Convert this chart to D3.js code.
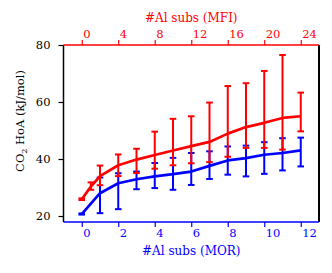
<!DOCTYPE html>
<html>
<head>
<meta charset="utf-8">
<script src="https://cdn.jsdelivr.net/npm/d3@7"></script>
<style>
  body { margin: 0; background: #fff; }
  svg text { font-family: "DejaVu Serif", serif; }
</style>
</head>
<body>
<div id="chart"></div>
<script>
// MOR series (bottom axis, blue)
var morX = [0, 1, 2, 3, 4, 5, 6, 7, 8, 9, 10, 11, 12];
var morMean = [20.7, 28.0, 31.5, 32.9, 33.9, 34.7, 35.6, 37.6, 39.5, 40.3, 41.5, 42.1, 43.0];
var morLow = [20.5, 21.0, 22.4, 29.4, 29.8, 29.2, 30.9, 33.0, 34.5, 33.9, 34.8, 36.0, 37.4];
var morHigh = [20.9, 33.5, 35.0, 35.6, 38.6, 40.4, 42.1, 42.7, 44.4, 44.7, 45.9, 47.3, 47.5];

// MFI series (top axis, red)
var mfiX = [0, 1, 2, 4, 6, 8, 10, 12, 14, 16, 18, 20, 22, 24];
var mfiMean = [25.9, 30.3, 34.0, 37.8, 39.8, 41.4, 43.0, 44.5, 46.0, 48.9, 51.2, 52.7, 54.4, 55.0];
var mfiLow = [25.6, 29.2, 30.8, 34.0, 35.1, 36.6, 37.8, 38.5, 38.9, 40.8, 43.9, 43.9, 43.3, 49.7];
var mfiHigh = [26.2, 31.8, 37.7, 41.6, 43.6, 49.6, 54.1, 55.0, 59.8, 65.6, 66.6, 70.9, 76.5, 63.3];

var yTicks = [20, 40, 60, 80];
var morTicks = [0, 2, 4, 6, 8, 10, 12];
var mfiTicks = [0, 4, 8, 12, 16, 20, 24];

var width = 332, height = 273;
var mLeft = 63.5, mRight = 319, mTop = 45, mBottom = 222;
var blue = "#0000ff", red = "#ff0000";

var svg = d3.select("#chart").append("svg")
    .attr("width", width).attr("height", height);

var x = d3.scaleLinear().domain([-1, 13]).range([mLeft, mRight]);
var xTop = d3.scaleLinear().domain([-2, 26]).range([mLeft, mRight]);
var y = d3.scaleLinear().domain([17.9, 80]).range([mBottom, mTop]);

function series(xs, mean, low, high, xs_scale, color) {
    var pts = xs.map(function (v, i) {
        return { x: v, m: mean[i], lo: low[i], hi: high[i] };
    });
    var g = svg.append("g");
    var line = d3.line().x(d => xs_scale(d.x)).y(d => y(d.m));
    g.append("path").datum(pts)
        .attr("fill", "none")
        .attr("stroke", color)
        .attr("stroke-width", 2.7)
        .attr("stroke-linejoin", "round")
        .attr("d", line);
    var bars = g.selectAll(".bar").data(pts).join("g");
    bars.append("line")
        .attr("x1", d => xs_scale(d.x)).attr("x2", d => xs_scale(d.x))
        .attr("y1", d => y(d.lo)).attr("y2", d => y(d.hi))
        .attr("stroke", color).attr("stroke-width", 2);
    ["lo", "hi"].forEach(function (k) {
        bars.append("line")
            .attr("x1", d => xs_scale(d.x) - 3.3).attr("x2", d => xs_scale(d.x) + 3.3)
            .attr("y1", d => y(d[k])).attr("y2", d => y(d[k]))
            .attr("stroke", color).attr("stroke-width", 2);
    });
}

series(morX, morMean, morLow, morHigh, x, blue);
series(mfiX, mfiMean, mfiLow, mfiHigh, xTop, red);

// left axis
var yAxis = svg.append("g")
    .attr("transform", "translate(" + mLeft + ",0)")
    .call(d3.axisLeft(y).tickValues(yTicks).tickSize(5).tickPadding(8));
yAxis.select(".domain").remove();
yAxis.selectAll("line").attr("stroke", "#000").attr("stroke-width", 1.2);
yAxis.selectAll("text").attr("font-family", "DejaVu Serif").attr("font-size", 11.5).attr("fill", "#000");

// bottom axis
var xAxis = svg.append("g")
    .attr("transform", "translate(0," + mBottom + ")")
    .call(d3.axisBottom(x).tickValues(morTicks).tickSize(5).tickPadding(2));
xAxis.select(".domain").remove();
xAxis.selectAll("line").attr("stroke", blue).attr("stroke-width", 1.2);
xAxis.selectAll("text").attr("font-family", "DejaVu Serif").attr("font-size", 11.5)
    .attr("fill", blue).attr("text-anchor", "start").attr("dx", 1);

// top axis
var xAxisTop = svg.append("g")
    .attr("transform", "translate(0," + mTop + ")")
    .call(d3.axisTop(xTop).tickValues(mfiTicks).tickSize(5).tickPadding(2));
xAxisTop.select(".domain").remove();
xAxisTop.selectAll("line").attr("stroke", red).attr("stroke-width", 1.2);
xAxisTop.selectAll("text").attr("font-family", "DejaVu Serif").attr("font-size", 11.5)
    .attr("fill", red).attr("text-anchor", "start").attr("dx", 1);

// spines
svg.append("line").attr("x1", mLeft).attr("x2", mLeft).attr("y1", mTop).attr("y2", mBottom)
    .attr("stroke", "#000").attr("stroke-width", 1.5);
svg.append("line").attr("x1", mRight).attr("x2", mRight).attr("y1", mTop).attr("y2", mBottom)
    .attr("stroke", "#000").attr("stroke-width", 2);
svg.append("line").attr("x1", mLeft).attr("x2", mRight).attr("y1", mTop).attr("y2", mTop)
    .attr("stroke", red).attr("stroke-width", 1.3);
svg.append("line").attr("x1", mLeft).attr("x2", mRight).attr("y1", mBottom).attr("y2", mBottom)
    .attr("stroke", blue).attr("stroke-width", 1.3);

// axis titles
svg.append("text")
    .attr("x", (mLeft + mRight) / 2).attr("y", 22)
    .attr("text-anchor", "middle").attr("font-size", 12).attr("fill", red)
    .text("#Al subs (MFI)");
svg.append("text")
    .attr("x", (mLeft + mRight) / 2).attr("y", 255)
    .attr("text-anchor", "middle").attr("font-size", 12).attr("fill", blue)
    .text("#Al subs (MOR)");

var yLabel = svg.append("text")
    .attr("transform", "translate(24,121) rotate(-90)")
    .attr("text-anchor", "middle").attr("font-size", 11.5).attr("fill", "#000");
yLabel.append("tspan").text("CO");
yLabel.append("tspan").attr("font-size", 8).attr("dy", 3).text("2");
yLabel.append("tspan").attr("dy", -3).text(" HoA (kJ/mol)");
</script>
</body>
</html>
